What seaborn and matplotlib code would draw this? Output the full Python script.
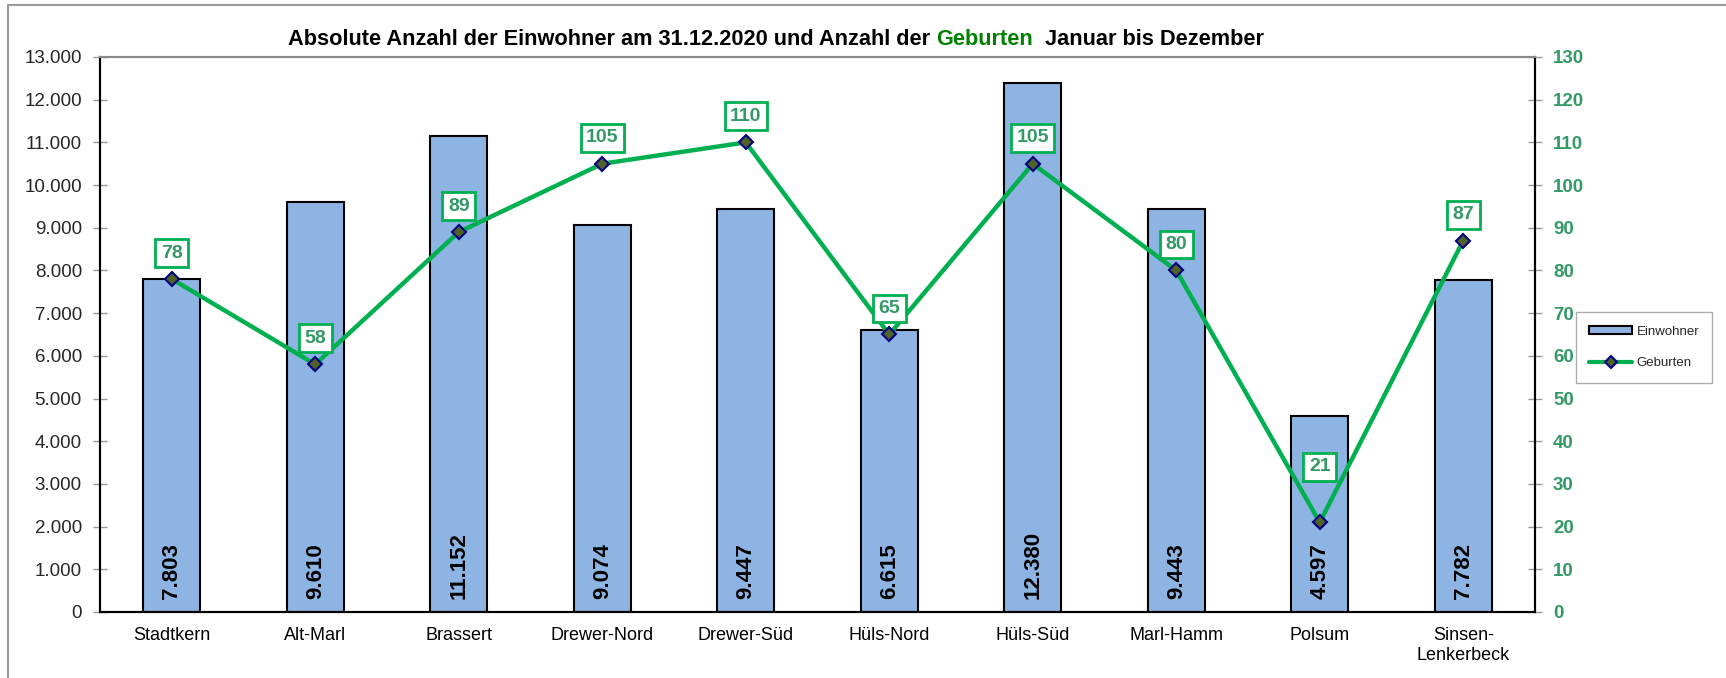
import numpy as np
import pandas as pd
import matplotlib
matplotlib.use("Agg")
import matplotlib.pyplot as plt
import seaborn as sns
from matplotlib.patches import Patch
from matplotlib.lines import Line2D
from matplotlib.ticker import FuncFormatter, MultipleLocator

categories = ["Stadtkern", "Alt-Marl", "Brassert", "Drewer-Nord", "Drewer-Süd",
              "Hüls-Nord", "Hüls-Süd", "Marl-Hamm", "Polsum", "Sinsen-\nLenkerbeck"]
einwohner = [7803, 9610, 11152, 9074, 9447, 6615, 12380, 9443, 4597, 7782]
geburten = [78, 58, 89, 105, 110, 65, 105, 80, 21, 87]

sns.set_style("white")
plt.rcParams['font.family'] = ['Liberation Sans', 'DejaVu Sans']

W, H = 1726, 678
fig = plt.figure(figsize=(W / 100, H / 100), dpi=100)
ax = fig.add_axes([100 / W, 1 - 612 / H, (1535 - 100) / W, (612 - 57) / H])
ax2 = ax.twinx()

df = pd.DataFrame({"Stadtteil": categories, "Einwohner": einwohner, "Geburten": geburten})

BAR = "#8EB4E3"
LINE = "#00B050"
TXTG = "#339966"

sns.barplot(data=df, x="Stadtteil", y="Einwohner", ax=ax, color=BAR,
            edgecolor="black", linewidth=1.5, width=0.4, saturation=1)
sns.lineplot(x=np.arange(len(categories)), y=df["Geburten"], ax=ax2, color=LINE,
             linewidth=3.2, marker="D", markersize=7, markerfacecolor="#4F6228",
             markeredgecolor="#000080", markeredgewidth=1.5, sort=False)

ax.set_xlim(-0.5, len(categories) - 0.5)
ax.set_ylim(0, 13000)
ax2.set_ylim(0, 130)
ax.yaxis.set_major_locator(MultipleLocator(1000))
ax2.yaxis.set_major_locator(MultipleLocator(10))
ax.yaxis.set_major_formatter(FuncFormatter(lambda v, p: f"{int(v):,}".replace(",", ".")))
ax.set_xlabel("")
ax.set_ylabel("")
ax2.set_ylabel("")

ax.set_xticks(np.arange(-0.5, len(categories), 1), minor=True)
ax.tick_params(axis="x", which="major", length=0, pad=11, labelsize=13, colors="black")
ax.tick_params(axis="x", which="minor", length=6, direction="out", color="#999999", width=1)
ax.tick_params(axis="y", which="major", length=10, direction="inout", color="#999999",
               width=1, labelsize=13.5, pad=8, left=True)
ax2.tick_params(axis="y", which="major", length=10, direction="inout", color="#999999",
                width=1, labelsize=13.5, pad=8, labelcolor=TXTG, right=True)
for lab in ax2.get_yticklabels():
    lab.set_fontweight("bold")

for a in (ax, ax2):
    for s in ("left", "right", "bottom"):
        a.spines[s].set_color("black")
        a.spines[s].set_linewidth(1.5)
    a.spines["top"].set_color("#888888")
    a.spines["top"].set_linewidth(1.5)
    a.grid(False)

# bar value labels
for i, v in enumerate(einwohner):
    ax.annotate(f"{v:,}".replace(",", "."), xy=(i, 0), xytext=(0, 9.4),
                textcoords="offset points", rotation=90, ha="center", va="bottom",
                fontsize=16, fontweight="bold", color="black")

# line value labels
for i, v in enumerate(geburten):
    off = 40 if v == 21 else 18.7
    ax2.annotate(str(v), xy=(i, v), xytext=(0, off), textcoords="offset points",
                 ha="center", va="center", fontsize=14, fontweight="bold", color=TXTG,
                 bbox=dict(boxstyle="square,pad=0.28", facecolor="white",
                           edgecolor=LINE, linewidth=2))

# title
y_t = 1 - 45 / H
fs_t = 15.7
t1 = fig.text(288 / W, y_t, "Absolute Anzahl der Einwohner am 31.12.2020 und Anzahl der",
              fontsize=fs_t, fontweight="bold", color="black", va="baseline", ha="left")
t2 = fig.text(0, 0, "Geburten", fontsize=fs_t, fontweight="bold", color="#008000",
              va="baseline", ha="left")
t3 = fig.text(0, 0, "Januar bis Dezember", fontsize=fs_t, fontweight="bold",
              color="black", va="baseline", ha="left")
fig.canvas.draw()
r = fig.canvas.get_renderer()
bb1 = t1.get_window_extent(r)
sp = 6
t2.set_position(((bb1.x1 + sp) / W, y_t))
fig.canvas.draw()
bb2 = t2.get_window_extent(r)
t3.set_position(((bb2.x1 + 2 * sp) / W, y_t))

# legend
handles = [Patch(facecolor=BAR, edgecolor="black", linewidth=1.5, label="Einwohner"),
           Line2D([0], [0], color=LINE, linewidth=3, marker="D", markersize=6,
                  markerfacecolor="#4F6228", markeredgecolor="#000080",
                  markeredgewidth=1.5, label="Geburten")]
leg = fig.legend(handles=handles, loc="center",
                 bbox_to_anchor=((1583 + 1705) / 2 / W, 1 - 347.5 / H),
                 fontsize=9.5, frameon=True, fancybox=False, edgecolor="#999999",
                 handlelength=3.3, handleheight=0.5, labelspacing=1.5,
                 borderpad=1.0, handletextpad=0.3)
leg.get_frame().set_linewidth(1)

# outer frame
fig.add_artist(Line2D([8 / W, 8 / W], [0, 1 - 5 / H], color="#999999", linewidth=1.5,
                      transform=fig.transFigure))
fig.add_artist(Line2D([8 / W, 1], [1 - 5 / H, 1 - 5 / H], color="#999999", linewidth=1.5,
                      transform=fig.transFigure))

fig.savefig("out.png", dpi=100)
